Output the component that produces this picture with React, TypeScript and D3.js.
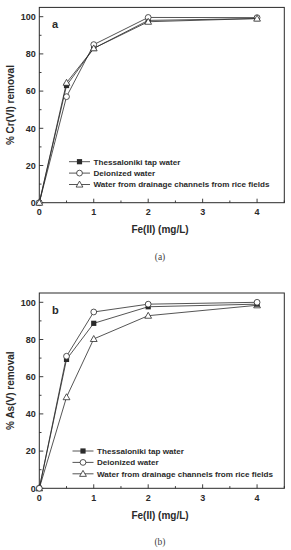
import * as d3 from 'd3';
import React from 'react';

const doses = [0, 0.5, 1, 2, 4];
const seriesNames = [
  'Thessaloniki tap water',
  'Deionized water',
  'Water from drainage channels from rice fields',
];
const crTap = [0, 63, 83, 98, 99];
const crDeion = [0, 57, 85, 99.6, 99.5];
const crDrain = [0, 64.5, 83, 97.3, 99];
const asTap = [0, 69.3, 88.7, 97.6, 99];
const asDeion = [0, 71, 94.8, 99, 100];
const asDrain = [0, 49, 80.3, 92.8, 98.4];
const xTicks = [0, 1, 2, 3, 4];
const yTicks = [0, 20, 40, 60, 80, 100];

const INK = '#2a2a2a';
const FONT = '"Liberation Sans", Arial, sans-serif';

const Marker = ({ kind, x, y }: { kind: number; x: number; y: number }) => {
  if (kind === 0)
    return <rect x={x - 2.6} y={y - 2.6} width={5.2} height={5.2} fill={INK} />;
  if (kind === 1)
    return <circle cx={x} cy={y} r={2.9} fill="#fff" stroke={INK} strokeWidth={0.8} />;
  const s = 3.4;
  return (
    <path
      d={`M${x},${y - s}L${x + s},${y + s * 0.75}L${x - s},${y + s * 0.75}Z`}
      fill="#fff"
      stroke={INK}
      strokeWidth={0.8}
    />
  );
};

type PanelProps = {
  y0: number;
  letter: string;
  yLabel: string;
  series: number[][];
  order: number[];
  legendY: number;
  legendX: number;
  caption: string;
};

const Panel = ({ y0, letter, yLabel, series, order, legendY, legendX, caption }: PanelProps) => {
  const x = d3.scaleLinear().domain([0, 4.5]).range([39.3, 284.3]);
  const y = d3.scaleLinear().domain([0, 105]).range([y0, y0 - 195.3]);
  const [left, right] = x.range();
  const [bottom, top] = y.range();
  const ln = d3
    .line<[number, number]>()
    .x((d) => x(d[0]))
    .y((d) => y(d[1]));
  const xMinor = d3.range(0, 4.51, 0.5);
  const yMinor = d3.range(0, 105, 10);
  return (
    <g fontFamily={FONT} fill={INK}>
      <rect x={left} y={top} width={right - left} height={bottom - top} fill="none" stroke={INK} strokeWidth={1} />
      {xMinor.map((t) => (
        <line key={'xm' + t} x1={x(t)} x2={x(t)} y1={bottom} y2={bottom - (Number.isInteger(t) ? 4 : 2.2)} stroke={INK} strokeWidth={0.9} />
      ))}
      {yMinor.map((t) => (
        <line key={'ym' + t} x1={left} x2={left + (t % 20 === 0 ? 4 : 2.2)} y1={y(t)} y2={y(t)} stroke={INK} strokeWidth={0.9} />
      ))}
      {xTicks.map((t) => (
        <text key={'xt' + t} x={x(t)} y={bottom + 12.5} textAnchor="middle" fontSize={9} fontWeight="bold">
          {t}
        </text>
      ))}
      {yTicks.map((t) => (
        <text key={'yt' + t} x={left - 3.5} y={y(t) + 3.2} textAnchor="end" fontSize={9} fontWeight="bold">
          {t}
        </text>
      ))}
      <text x={160} y={bottom + 30.5} textAnchor="middle" fontSize={10} fontWeight="bold">
        Fe(II) (mg/L)
      </text>
      <text
        transform={`translate(13.5,${(top + bottom) / 2}) rotate(-90)`}
        textAnchor="middle"
        fontSize={10}
        fontWeight="bold"
      >
        {yLabel}
      </text>
      <text x={52} y={top + 21} fontSize={11} fontWeight="bold">
        {letter}
      </text>
      {order.map((k) => (
        <g key={'s' + k}>
          <path
            d={ln(doses.map((d, i) => [d, series[k][i]] as [number, number])) || ''}
            fill="none"
            stroke={INK}
            strokeWidth={0.8}
          />
          {doses.map((d, i) => (
            <Marker key={i} kind={k} x={x(d)} y={y(series[k][i])} />
          ))}
        </g>
      ))}
      {seriesNames.map((name, k) => {
        const ly = legendY + k * 11.4;
        return (
          <g key={'lg' + k}>
            <line x1={legendX} x2={legendX + 21} y1={ly} y2={ly} stroke={INK} strokeWidth={0.8} />
            <Marker kind={k} x={legendX + 10.5} y={ly} />
            <text x={legendX + 24.5} y={ly + 2.9} fontSize={8.1} fontWeight="bold">
              {name}
            </text>
          </g>
        );
      })}
      <text x={160} y={bottom + 57} textAnchor="middle" fontSize={9.5} fontFamily='"Liberation Serif", serif' fill="#444">
        {caption}
      </text>
    </g>
  );
};

const App = () => (
  <div style={{ position: 'absolute', left: 0, top: 0 }}>
    <svg width={291} height={550} style={{ display: 'block', background: '#fff' }}>
      <Panel
        y0={202.7}
        letter="a"
        yLabel="% Cr(VI) removal"
        series={[crTap, crDeion, crDrain]}
        order={[0, 1, 2]}
        legendY={161.7}
        legendX={69}
        caption="(a)"
      />
      <Panel
        y0={488.3}
        letter="b"
        yLabel="% As(V) removal"
        series={[asTap, asDeion, asDrain]}
        order={[2, 0, 1]}
        legendY={451}
        legendX={72.5}
        caption="(b)"
      />
    </svg>
  </div>
);

export default App;
